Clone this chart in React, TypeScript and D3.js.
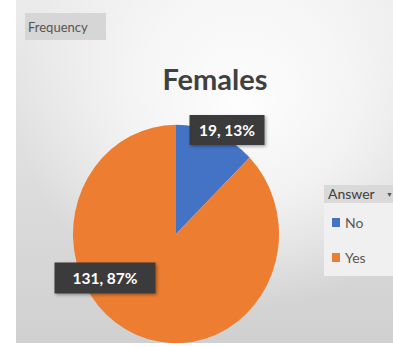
import React from "react";
import * as d3 from "d3";

const categories = ["No", "Yes"];
const values = [19, 131];
const percents = ["13%", "87%"];
const colors = ["#4472C4", "#ED7D31"];
const title = "Females";
const filterLabel = "Frequency";
const legendTitle = "Answer";

const W = 393;
const H = 347;

export default function App() {
  const cx = 176;
  const cy = 234;
  const r = 103;
  const pie = d3.pie<number>().sort(null).value((d) => d)(values);
  const arc = d3.arc<d3.PieArcDatum<number>>().innerRadius(0).outerRadius(r);
  const font = "Lato, 'Open Sans', sans-serif";
  const labelPos = [
    { x: 227, y: 130, w: 75, h: 30 },
    { x: 105, y: 278, w: 101, h: 31 },
  ];
  return (
    <svg
      width={W}
      height={H}
      style={{ position: "absolute", left: 0, top: 0 }}
      fontFamily={font}
    >
      <defs>
        <linearGradient id="bgl" x1="0" y1="0" x2="0" y2="1">
          <stop offset="0" stopColor="#ebebeb" />
          <stop offset="1" stopColor="#d0d0d0" />
        </linearGradient>
        <radialGradient id="bg" cx="0.6" cy="0.3" r="0.6">
          <stop offset="0" stopColor="#ffffff" stopOpacity="0.95" />
          <stop offset="0.5" stopColor="#ffffff" stopOpacity="0.6" />
          <stop offset="1" stopColor="#ffffff" stopOpacity="0" />
        </radialGradient>
        <filter id="sh" x="-20%" y="-20%" width="150%" height="150%">
          <feDropShadow dx="1.5" dy="1.5" stdDeviation="1.5" floodColor="#000" floodOpacity="0.35" />
        </filter>
        <clipPath id="area">
          <rect x={16} y={0} width={W - 16} height={343} />
        </clipPath>
      </defs>
      <rect x={0} y={0} width={W} height={H} fill="#ffffff" />
      <rect x={16} y={0} width={W - 16} height={343} fill="url(#bgl)" />
      <rect x={16} y={0} width={W - 16} height={343} fill="url(#bg)" />

      {/* filter button */}
      <rect x={25} y={13} width={81} height={27} fill="#d6d6d6" />
      <text x={28} y={32} fontSize={13} fill="#555" fontFamily={font}>
        {filterLabel}
      </text>

      {/* title */}
      <text
        x={215}
        y={90}
        textAnchor="middle"
        fontSize={29}
        fontWeight="bold"
        fill="#404040"
      >
        {title}
      </text>

      {/* pie */}
      <g clipPath="url(#area)">
        <g transform={`translate(${cx},${cy}) scale(1,1.06)`}>
          {pie.map((d, i) => (
            <path key={categories[i]} d={arc(d) || ""} fill={colors[i]} />
          ))}
        </g>
      </g>

      {/* data labels */}
      {pie.map((d, i) => {
        const p = labelPos[i];
        return (
          <g key={"l" + i}>
            <rect
              x={p.x - p.w / 2}
              y={p.y - p.h / 2}
              width={p.w}
              height={p.h}
              fill="#3b3b3b"
              filter="url(#sh)"
            />
            <text
              x={p.x}
              y={p.y + 5.5}
              textAnchor="middle"
              fontSize={15.5}
              fontWeight="bold"
              fill="#ffffff"
            >
              {`${values[i]}, ${percents[i]}`}
            </text>
          </g>
        );
      })}

      {/* legend */}
      <rect x={324} y={203} width={69} height={73} fill="#f0f0f0" />
      <rect x={324} y={185} width={69} height={18} fill="#d9d9d9" />
      <text x={328} y={199} fontSize={14} fill="#404040">
        {legendTitle}
      </text>
      <text x={386} y={197} fontSize={7} fill="#555">
        ▼
      </text>
      {categories.map((c, i) => (
        <g key={c} transform={`translate(332,${223 + i * 35})`}>
          <rect x={0} y={-5} width={8} height={9} fill={colors[i]} />
          <text x={13} y={5} fontSize={14} fill="#595959">
            {c}
          </text>
        </g>
      ))}
    </svg>
  );
}
